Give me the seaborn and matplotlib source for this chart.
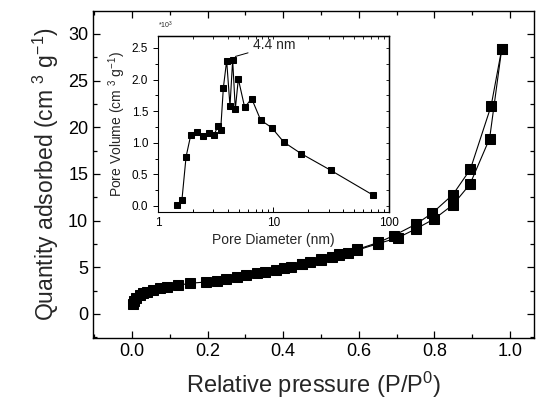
import numpy as np
import pandas as pd
import seaborn as sns
import matplotlib.pyplot as plt
from matplotlib.ticker import MultipleLocator, LogLocator, NullFormatter

# Isotherm, adsorption branch
ads_p = [0.002, 0.005, 0.01, 0.02, 0.03, 0.04, 0.056, 0.074, 0.094, 0.122, 0.153, 0.196,
         0.224, 0.25, 0.279, 0.302, 0.33, 0.352, 0.38, 0.401, 0.421, 0.449, 0.472, 0.499,
         0.528, 0.548, 0.571, 0.594, 0.652, 0.704, 0.752, 0.80, 0.849, 0.894, 0.946, 0.978]
ads_q = [1.1, 1.4, 1.68, 2.04, 2.2, 2.39, 2.57, 2.75, 2.93, 3.07, 3.29, 3.43,
         3.57, 3.75, 4.0, 4.14, 4.34, 4.5, 4.71, 4.89, 5.07, 5.32, 5.54, 5.79,
         6.1, 6.3, 6.55, 6.82, 7.55, 8.18, 9.14, 10.2, 11.7, 13.9, 18.8, 28.4]

# desorption branch
des_p = [0.978, 0.95, 0.895, 0.849, 0.794, 0.752, 0.692, 0.652, 0.596, 0.548, 0.50, 0.45]
des_q = [28.4, 22.3, 15.5, 12.8, 10.8, 9.64, 8.39, 7.67, 6.92, 6.4, 5.86, 5.36]

# Pore size distribution (inset), volume in 1e-3 cm3/g
pore_d = [1.47, 1.61, 1.75, 1.92, 2.16, 2.44, 2.75, 3.05, 3.31, 3.49, 3.68, 3.93,
          4.2, 4.43, 4.67, 4.96, 5.63, 6.47, 7.74, 9.64, 12.3, 17.3, 31.3, 73.1]
pore_v = [0.02, 0.09, 0.78, 1.12, 1.17, 1.11, 1.16, 1.12, 1.27, 1.21, 1.87, 2.30,
          1.58, 2.31, 1.53, 2.01, 1.56, 1.70, 1.36, 1.24, 1.01, 0.83, 0.565, 0.17]

sns.set_theme(style="ticks")
plt.rcParams['font.family'] = ['Liberation Sans', 'DejaVu Sans']
plt.rcParams['mathtext.fontset'] = 'custom'
plt.rcParams['mathtext.rm'] = 'Liberation Sans'
plt.rcParams['mathtext.it'] = 'Liberation Sans:italic'
plt.rcParams['axes.edgecolor'] = 'black'
plt.rcParams['axes.linewidth'] = 1.0

fig = plt.figure(figsize=(5.36, 4.08), dpi=100)
ax = fig.add_axes([0.1735, 0.1716, 0.8225, 0.8014])

ads = pd.DataFrame({"p": ads_p, "q": ads_q})
des = pd.DataFrame({"p": des_p, "q": des_q})
for d in (ads, des):
    sns.lineplot(data=d, x="p", y="q", ax=ax, color="black", lw=0.8, marker="s",
                 markersize=7.5, markeredgecolor="black", sort=False, estimator=None)

ax.set_xlim(-0.103, 1.063)
ax.set_ylim(-2.57, 32.46)
ax.xaxis.set_major_locator(MultipleLocator(0.2))
ax.xaxis.set_minor_locator(MultipleLocator(0.1))
ax.yaxis.set_major_locator(MultipleLocator(5))
ax.yaxis.set_minor_locator(MultipleLocator(2.5))
ax.xaxis.set_major_formatter(plt.FuncFormatter(lambda v, _: f"{v:.1f}"))
ax.tick_params(which="both", direction="in", top=True, right=True, colors="black",
               labelsize=13, width=0.9)
ax.tick_params(which="major", length=5)
ax.tick_params(which="minor", length=3)
ax.set_xlabel("Relative pressure (P/P$^0$)", fontsize=17, labelpad=7)
ax.set_ylabel("Quantity adsorbed (cm $^3$ g$^{-1}$)", fontsize=16.5, labelpad=5)

# inset
ax_in = fig.add_axes([0.2948, 0.4804, 0.4309, 0.4314])
sns.lineplot(x=pore_d, y=pore_v, ax=ax_in, color="black", lw=0.8, marker="s",
             markersize=3.8, markeredgecolor="black", sort=False, estimator=None)
ax_in.set_xscale("log")
ax_in.set_xlim(1, 100)
ax_in.set_ylim(-0.095, 2.69)
ax_in.set_xticks([1, 10, 100])
ax_in.set_xticklabels(["1", "10", "100"])
ax_in.xaxis.set_minor_locator(LogLocator(base=10, subs=np.arange(2, 10)))
ax_in.xaxis.set_minor_formatter(NullFormatter())
ax_in.yaxis.set_major_locator(MultipleLocator(0.5))
ax_in.yaxis.set_minor_locator(MultipleLocator(0.25))
ax_in.tick_params(axis="y", which="both", direction="out", colors="black", labelsize=8.5, width=0.7)
ax_in.tick_params(axis="x", which="both", direction="in", colors="black", labelsize=8.5, width=0.7)
ax_in.tick_params(which="major", length=3.5)
ax_in.tick_params(which="minor", length=2)
for s in ax_in.spines.values():
    s.set_linewidth(0.8)

sec_y = ax_in.secondary_yaxis("right")
sec_y.yaxis.set_major_locator(MultipleLocator(0.25))
sec_y.tick_params(direction="in", length=2, width=0.7, labelright=False)
sec_x = ax_in.secondary_xaxis("top")
sec_x.set_xscale("log")
sec_x.set_xticks([1, 10, 100])
sec_x.xaxis.set_minor_locator(LogLocator(base=10, subs=np.arange(2, 10)))
sec_x.tick_params(which="both", direction="in", length=2, width=0.7, labeltop=False)
sec_x.xaxis.set_minor_formatter(NullFormatter())

ax_in.set_xlabel("Pore Diameter (nm)", fontsize=10, labelpad=3)
ax_in.set_ylabel("Pore Volume (cm $^3$ g$^{-1}$)", fontsize=10, labelpad=3)
ax_in.text(0.0, 1.03, "*10$^3$", transform=ax_in.transAxes, fontsize=5, ha="left", va="bottom")
ax_in.annotate("4.4 nm", xy=(4.55, 2.36), xytext=(6.6, 2.54), fontsize=10,
               ha="left", va="center",
               arrowprops=dict(arrowstyle="-", lw=0.7, color="black", shrinkA=1, shrinkB=1))

fig.savefig("out.png", dpi=100)
plt.close(fig)
